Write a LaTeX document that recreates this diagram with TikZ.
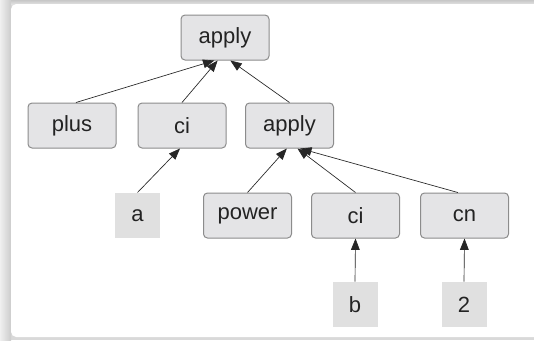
\documentclass[tikz,border=0pt]{standalone}
\usepackage{fontspec}
\setmainfont{Liberation Sans}
\usetikzlibrary{arrows.meta}

\definecolor{boxfill}{RGB}{228,228,230}
\definecolor{boxline}{RGB}{140,140,140}
\definecolor{leaffill}{RGB}{224,224,224}
\definecolor{inktext}{RGB}{35,35,35}

\tikzset{every picture/.style={line width=0.75pt}}
\tikzset{
	elem/.style={draw=boxline, fill=boxfill, rounded corners=3pt, minimum width=66pt, minimum height=33.75pt, inner sep=0pt, text=inktext, font=\fontsize{16.5}{19}\selectfont},
	leaf/.style={fill=leaffill, minimum width=33.75pt, minimum height=33.75pt, inner sep=0pt, text=inktext, font=\fontsize{16.5}{19}\selectfont},
	edge/.style={line width=0.5pt, draw=black!85, -{Triangle[length=8.5pt,width=6.5pt]}}}

\begin{document}
\begin{tikzpicture}[x=0.75pt,y=0.75pt,yscale=-1,xscale=1]
	\useasboundingbox (0,0) rectangle (534,340);

	% panel and its shadow
	\fill[black!15] (0,0) rectangle (534,340);
	\shade[left color=black!6, right color=black!20] (0,0) rectangle (11,340);
	\shade[top color=black!22, bottom color=black!12] (11,0) rectangle (534,4);
	\fill[white, rounded corners=4pt] (11,4) -- (540,4) -- (540,337) -- (11,337) -- cycle;

	% Tree nodes
	\node[elem] (top) at (225,37.5) {apply};
	\node[elem] (plus) at (72,125.5) {plus};
	\node[elem] (ci1) at (182,125.5) {ci};
	\node[elem] (inner) at (289.5,125.5) {apply};
	\node[leaf] (a) at (137.5,215.5) {a};
	\node[elem] (power) at (247.5,215.5) {power};
	\node[elem] (ci2) at (355.5,215.5) {ci};
	\node[elem] (cn) at (464.5,215.5) {cn};
	\node[leaf] (b) at (355,304.5) {b};
	\node[leaf] (two) at (464,304.5) {2};

	% Edges
	\draw[edge] ([xshift=3pt]plus.north) -- ([xshift=-8pt]top.south);
	\draw[edge] (ci1.north) -- ([xshift=-5.5pt]top.south);
	\draw[edge] (inner.north) -- ([xshift=4pt]top.south);
	\draw[edge] (a.north) -- ([xshift=-1.5pt]ci1.south);
	\draw[edge] (power.north) -- ([xshift=-2pt]inner.south);
	\draw[edge] (ci2.north) -- ([xshift=6pt]inner.south);
	\draw[edge] ([xshift=-5pt]cn.north) -- ([xshift=8pt]inner.south);
	\draw[edge] (b.north) -- (ci2.south);
	\draw[edge] (two.north) -- (cn.south);

\end{tikzpicture}
\end{document}
